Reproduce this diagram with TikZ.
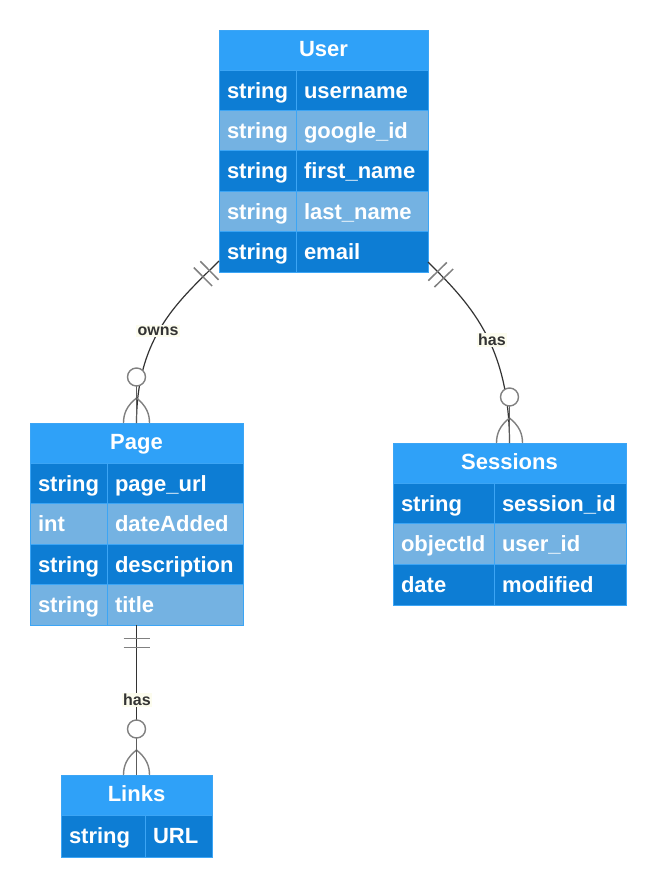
\documentclass[tikz,border=0pt]{standalone}
\usepackage{fontspec}
\setmainfont{Liberation Sans}
\usetikzlibrary{calc,decorations.markings}
\definecolor{hdr}{RGB}{47,161,248}
\definecolor{dk}{RGB}{13,125,212}
\definecolor{lt}{RGB}{116,178,226}
\definecolor{bd}{RGB}{60,165,245}
\definecolor{lbl}{RGB}{252,252,238}
\definecolor{ink}{RGB}{51,51,51}
\definecolor{mk}{RGB}{128,128,128}
\tikzset{
  hdrbox/.style={draw=bd, line width=1pt, fill=hdr, text=white, anchor=north west,
    outer sep=0pt, inner xsep=8pt, minimum height=40pt, text height=16pt, text depth=3pt,
    font=\bfseries\fontsize{22}{26}\selectfont},
  cellbox/.style={draw=bd, line width=1pt, text=white, anchor=north west, outer sep=0pt,
    inner xsep=8pt, inner ysep=0pt, align=left, text height=15.8pt, text depth=0pt,
    font=\bfseries\fontsize{22}{26}\selectfont},
  rel/.style={draw=ink, line width=1.2pt},
  bar/.style={draw=mk, line width=1.5pt},
  foot/.style={draw=mk, line width=1.4pt},
  stem/.style={draw=ink!80!white, line width=1.4pt},
  onebars/.style={postaction={decorate, decoration={markings,
      mark=at position 13.5pt with {\draw[bar] (0pt,-13pt) -- (0pt,13pt);},
      mark=at position 22.5pt with {\draw[bar] (0pt,-13pt) -- (0pt,13pt);}}}},
  lab/.style={fill=lbl, text=ink, inner sep=1.5pt, font=\bfseries\fontsize{16}{18}\selectfont}
}
% name, x, y, type text width, field text width, fill, type, field, height
\newcommand{\ERrow}[9]{%
  \node[cellbox, fill=#6, text width=#4pt, minimum height=#9pt] (#1t) at (#2,#3) {\mbox{#7}};
  \node[cellbox, fill=#6, text width=#5pt, minimum height=#9pt] (#1f) at (#1t.north east) {\mbox{#8}};
}
\newcommand{\ERmany}[1]{%
  \draw[foot] ($(#1)+(0,-25)$) .. controls ($(#1)+(-10,-17)$) and ($(#1)+(-13,-9)$) .. ($(#1)+(-13,0)$);
  \draw[foot] ($(#1)+(0,-25)$) .. controls ($(#1)+(10,-17)$) and ($(#1)+(13,-9)$) .. ($(#1)+(13,0)$);
  \draw[stem] ($(#1)+(0,-37)$) -- (#1);
  \draw[foot, fill=white] ($(#1)+(0,-46)$) circle[radius=9];
}
\begin{document}
\begin{tikzpicture}[x=1pt, y=-1pt]
\useasboundingbox[fill=white] (0,0) rectangle (656,886);

% User
\node[hdrbox, minimum width=209pt] (user) at (219,30) {User};
\ERrow{u1}{219}{70}{61}{116}{dk}{string}{username}{40.4}
\ERrow{u2}{219}{110.4}{61}{116}{lt}{string}{google\_id}{40.4}
\ERrow{u3}{219}{150.8}{61}{116}{dk}{string}{first\_name}{40.4}
\ERrow{u4}{219}{191.2}{61}{116}{lt}{string}{last\_name}{40.4}
\ERrow{u5}{219}{231.6}{61}{116}{dk}{string}{email}{40.4}

% Page
\node[hdrbox, minimum width=213pt] (page) at (30,423) {Page};
\ERrow{p1}{30}{463}{61}{120}{dk}{string}{page\_url}{40.5}
\ERrow{p2}{30}{503.5}{61}{120}{lt}{int}{dateAdded}{40.5}
\ERrow{p3}{30}{544}{61}{120}{dk}{string}{description}{40.5}
\ERrow{p4}{30}{584.5}{61}{120}{lt}{string}{title}{40.5}

% Sessions
\node[hdrbox, minimum width=233pt] (sessions) at (393,443) {Sessions};
\ERrow{s1}{393}{483}{85}{116}{dk}{string}{session\_id}{40.7}
\ERrow{s2}{393}{523.7}{85}{116}{lt}{objectId}{user\_id}{40.7}
\ERrow{s3}{393}{564.4}{85}{116}{dk}{date}{modified}{40.7}

% Links
\node[hdrbox, minimum width=151pt] (links) at (61,775) {Links};
\ERrow{l1}{61}{815}{68}{51}{dk}{string}{URL}{42}

% connection points
\coordinate (upA) at ($(u5t.south west)+(0,-11)$);
\coordinate (usA) at ($(u5f.south east)+(0,-10)$);
\coordinate (pB) at (page.north);
\coordinate (sB) at (sessions.north);
\coordinate (plA) at (links.north |- p4f.south);
\coordinate (lB) at (links.north);

% relations
\draw[rel, onebars] (upA) .. controls +(-39,39) and +(0,-88) .. (pB);
\draw[rel, onebars] (usA) .. controls +(40,40) and +(0,-100) .. (sB);
\draw[rel, onebars] (plA) -- (lB);
\ERmany{pB}
\ERmany{sB}
\ERmany{lB}

\node[lab] (owns) at (158,331) {owns};
\node[lab] (has1) at (492,340) {has};
\node[lab] (has2) at (137,700) {has};
\end{tikzpicture}
\end{document}
